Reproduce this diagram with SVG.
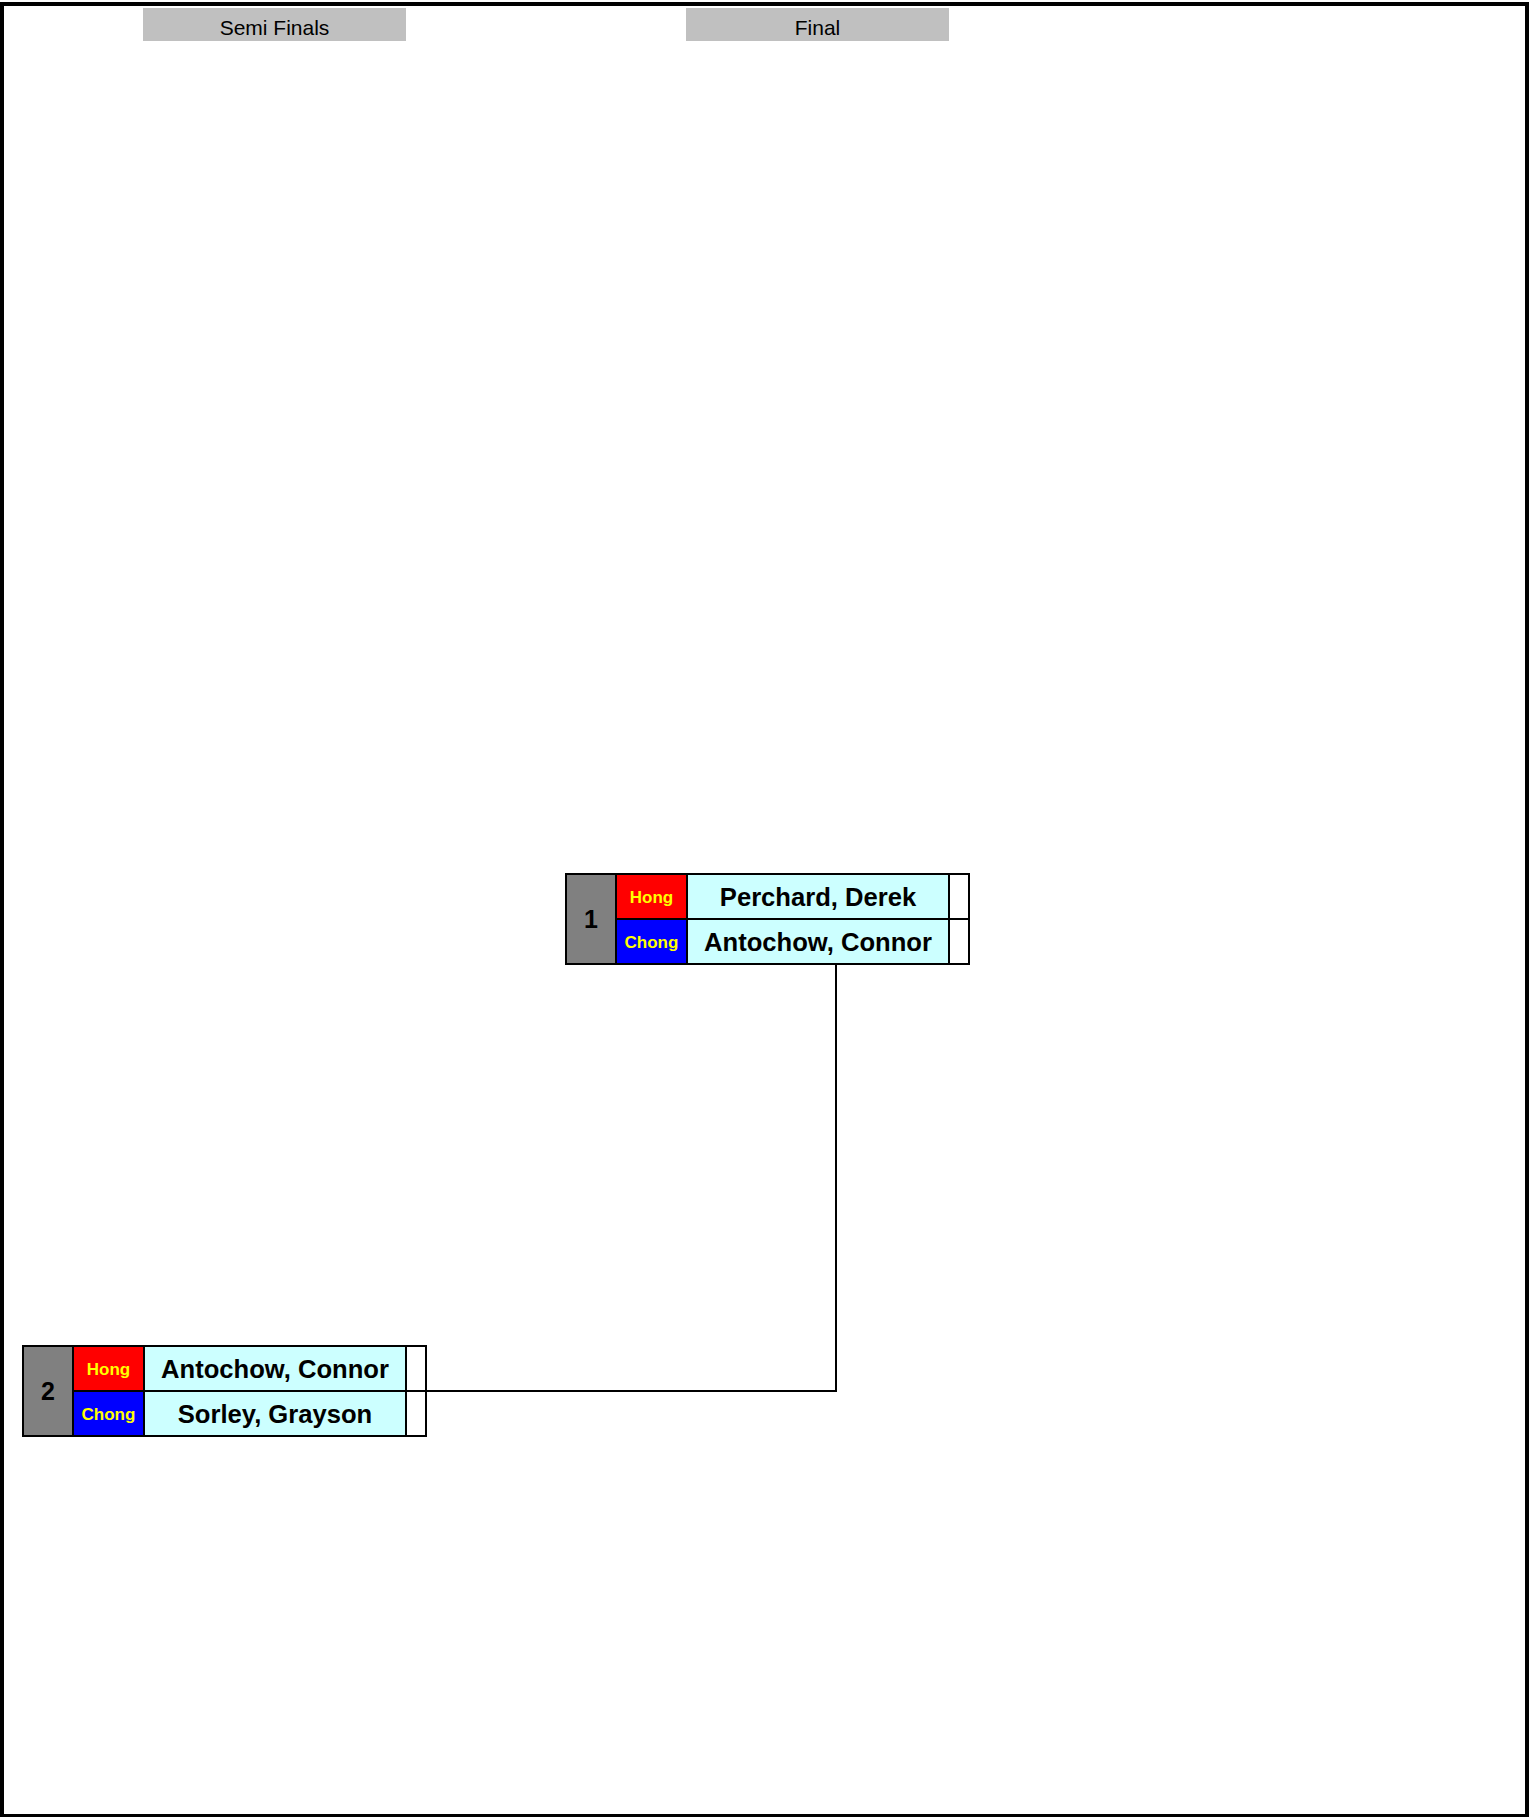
<svg xmlns="http://www.w3.org/2000/svg" width="1535" height="1817" viewBox="0 0 1535 1817">
<style>
.frame{fill:none;stroke:#000;stroke-width:4}
.hdr{fill:#C0C0C0}
.hdrt{font-family:"Liberation Sans",Arial,sans-serif;font-size:21px;fill:#000;text-anchor:middle}
.cell{stroke:#000;stroke-width:2}
.num{fill:#808080}
.red{fill:#FF0000}
.blue{fill:#0000FF}
.name{fill:#CCFFFF}
.score{fill:#FFFFFF}
.numt{font-family:"Liberation Sans",Arial,sans-serif;font-weight:bold;font-size:25px;fill:#000;text-anchor:middle}
.clubt{font-family:"Liberation Sans",Arial,sans-serif;font-weight:bold;font-size:17px;fill:#FFFF00;text-anchor:middle}
.namet{font-family:"Liberation Sans",Arial,sans-serif;font-weight:bold;font-size:25.6px;fill:#000;text-anchor:middle}
.conn{fill:none;stroke:#000;stroke-width:2}
</style>
<rect class="frame" x="2" y="4" width="1525" height="1812"/>
<g id="header-semi">
<rect class="hdr" x="143" y="8" width="263" height="33"/>
<text class="hdrt" x="274.5" y="35">Semi Finals</text>
</g>
<g id="header-final">
<rect class="hdr" x="686" y="8" width="263" height="33"/>
<text class="hdrt" x="817.5" y="35">Final</text>
</g>
<g id="connectors">
<path class="conn" d="M426 1391 H836 V964"/>
</g>
<g id="match-1" transform="translate(566,874)">
<rect class="cell num" x="0" y="0" width="50" height="90"/>
<rect class="cell red" x="50" y="0" width="71" height="45"/>
<rect class="cell blue" x="50" y="45" width="71" height="45"/>
<rect class="cell name" x="121" y="0" width="262" height="45"/>
<rect class="cell name" x="121" y="45" width="262" height="45"/>
<rect class="cell score" x="383" y="0" width="20" height="45"/>
<rect class="cell score" x="383" y="45" width="20" height="45"/>
<text class="numt" x="25" y="54">1</text>
<text class="clubt" x="85.5" y="28.5">Hong</text>
<text class="clubt" x="85.5" y="73.5">Chong</text>
<text class="namet" x="252" y="31.5">Perchard, Derek</text>
<text class="namet" x="252" y="76.5">Antochow, Connor</text>
</g>
<g id="match-2" transform="translate(23,1346)">
<rect class="cell num" x="0" y="0" width="50" height="90"/>
<rect class="cell red" x="50" y="0" width="71" height="45"/>
<rect class="cell blue" x="50" y="45" width="71" height="45"/>
<rect class="cell name" x="121" y="0" width="262" height="45"/>
<rect class="cell name" x="121" y="45" width="262" height="45"/>
<rect class="cell score" x="383" y="0" width="20" height="45"/>
<rect class="cell score" x="383" y="45" width="20" height="45"/>
<text class="numt" x="25" y="54">2</text>
<text class="clubt" x="85.5" y="28.5">Hong</text>
<text class="clubt" x="85.5" y="73.5">Chong</text>
<text class="namet" x="252" y="31.5">Antochow, Connor</text>
<text class="namet" x="252" y="76.5">Sorley, Grayson</text>
</g>
</svg>
